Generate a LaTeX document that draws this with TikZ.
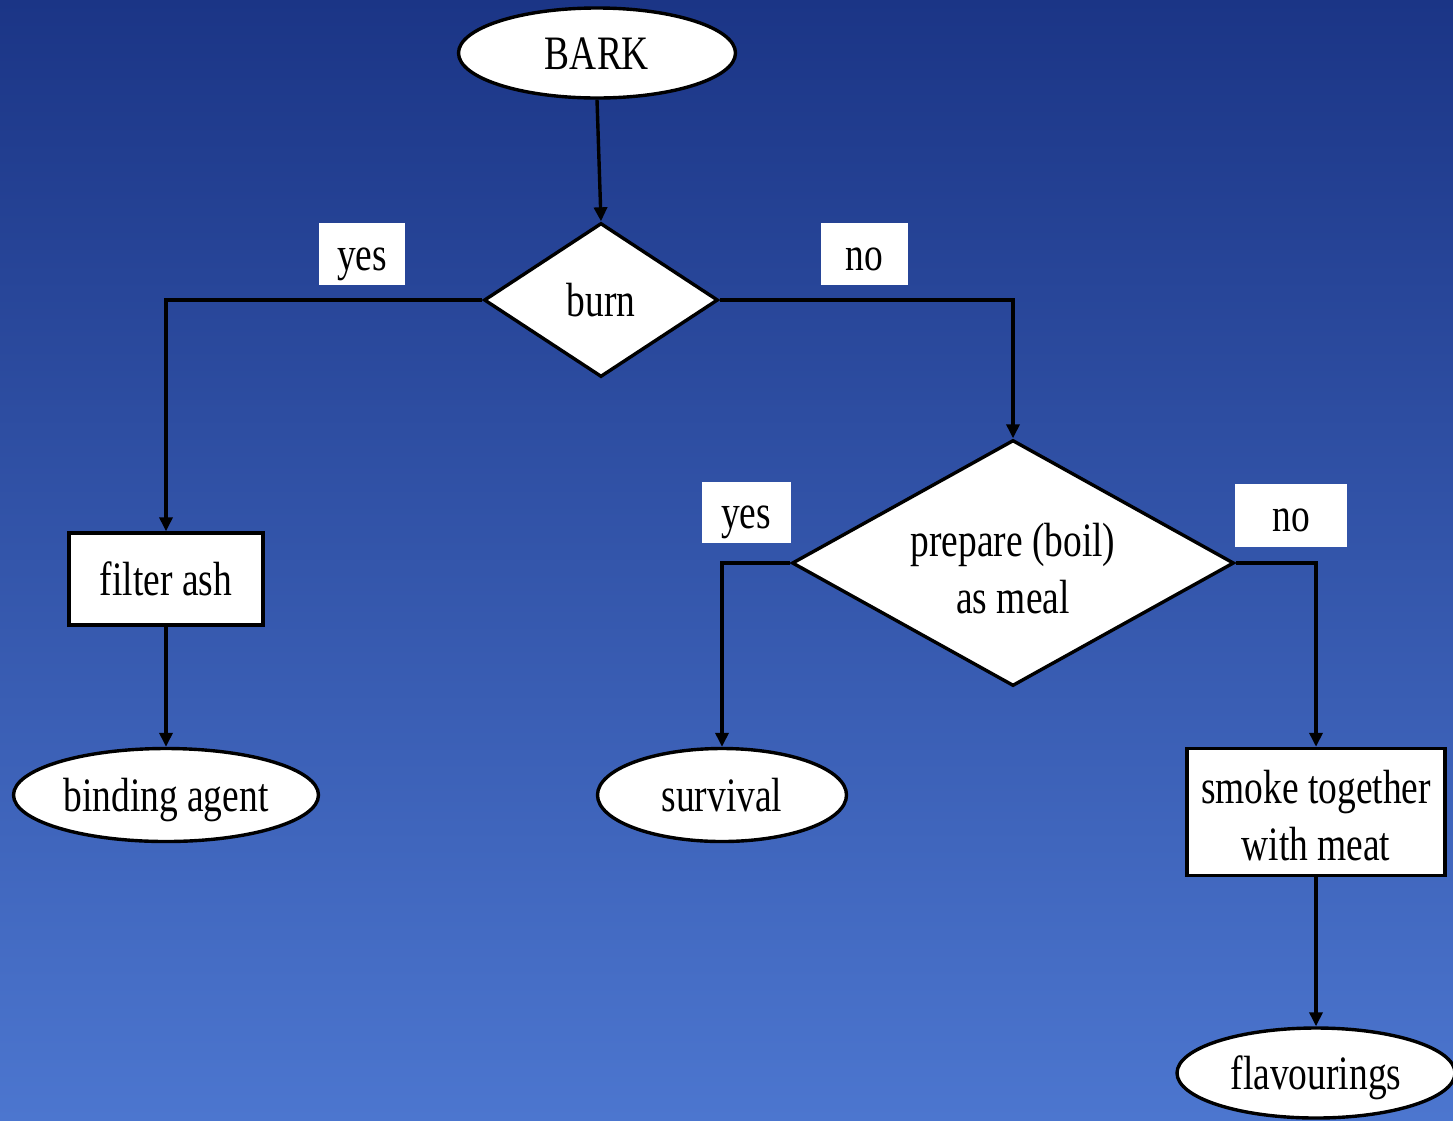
\documentclass[tikz,border=0pt]{standalone}
\usepackage{fontspec}
\setmainfont{Liberation Serif}[FakeStretch=0.78]
\usetikzlibrary{shapes.geometric,arrows.meta}
\definecolor{bgtop}{RGB}{27,53,134}
\definecolor{bgbot}{RGB}{76,118,207}
\begin{document}
\begin{tikzpicture}[x=1pt,y=-1pt,
  font=\fontsize{48}{57}\selectfont,
  term/.style={ellipse, draw, fill=white, line width=3.4pt, inner sep=0pt},
  box/.style={rectangle, draw, fill=white, line width=3.4pt, inner sep=0pt, align=center},
  dec/.style={diamond, draw, fill=white, line width=3.4pt, inner sep=0pt, align=center},
  lab/.style={rectangle, fill=white, inner sep=0pt},
  one/.style={text height=38pt, text depth=6pt},
  conn/.style={line width=3.4pt, -{Triangle[length=14pt,width=13pt]}}]
\useasboundingbox (0,0) rectangle (1453,1120);
\shade[top color=bgtop, bottom color=bgbot] (0,0) rectangle (1453,1120);

\node[term, one, minimum width=277pt, minimum height=90pt] (bark) at (597,53) {BARK};
\node[dec, one, minimum width=234pt, minimum height=154pt, aspect=1.52] (burn) at (601,300) {burn};
\node[box, one, minimum width=194pt, minimum height=92pt] (filter) at (166,579) {filter ash};
\node[term, one, minimum width=305pt, minimum height=93pt] (bind) at (166,795) {binding agent};
\node[dec, minimum width=442pt, minimum height=246pt, aspect=1.8] (prep) at (1013,563) {\rule{0pt}{44pt}prepare (boil)\\as meal};
\node[term, one, minimum width=249pt, minimum height=93pt] (surv) at (722,795) {survival};
\node[box, minimum width=258pt, minimum height=127pt] (smoke) at (1316,812) {\rule{0pt}{40pt}smoke together\\with meat};
\node[term, one, minimum width=278pt, minimum height=90pt] (flav) at (1316,1073) {flavourings};

\node[lab, one, minimum width=86pt, minimum height=62pt] (y1) at (362,254) {yes};
\node[lab, one, minimum width=87pt, minimum height=62pt] (n1) at (864,254) {no};
\node[lab, one, minimum width=89pt, minimum height=61pt] (y2) at (746,512) {yes};
\node[lab, one, minimum width=112pt, minimum height=63pt] (n2) at (1291,515) {no};

\draw[conn] (bark.south) -- (burn.north);
\draw[conn] (burn.west) -| (filter.north);
\draw[conn] (filter.south) -- (bind.north);
\draw[conn] (burn.east) -| (prep.north);
\draw[conn] (prep.west) -| (surv.north);
\draw[conn] (prep.east) -| (smoke.north);
\draw[conn] (smoke.south) -- (flav.north);
\end{tikzpicture}
\end{document}
